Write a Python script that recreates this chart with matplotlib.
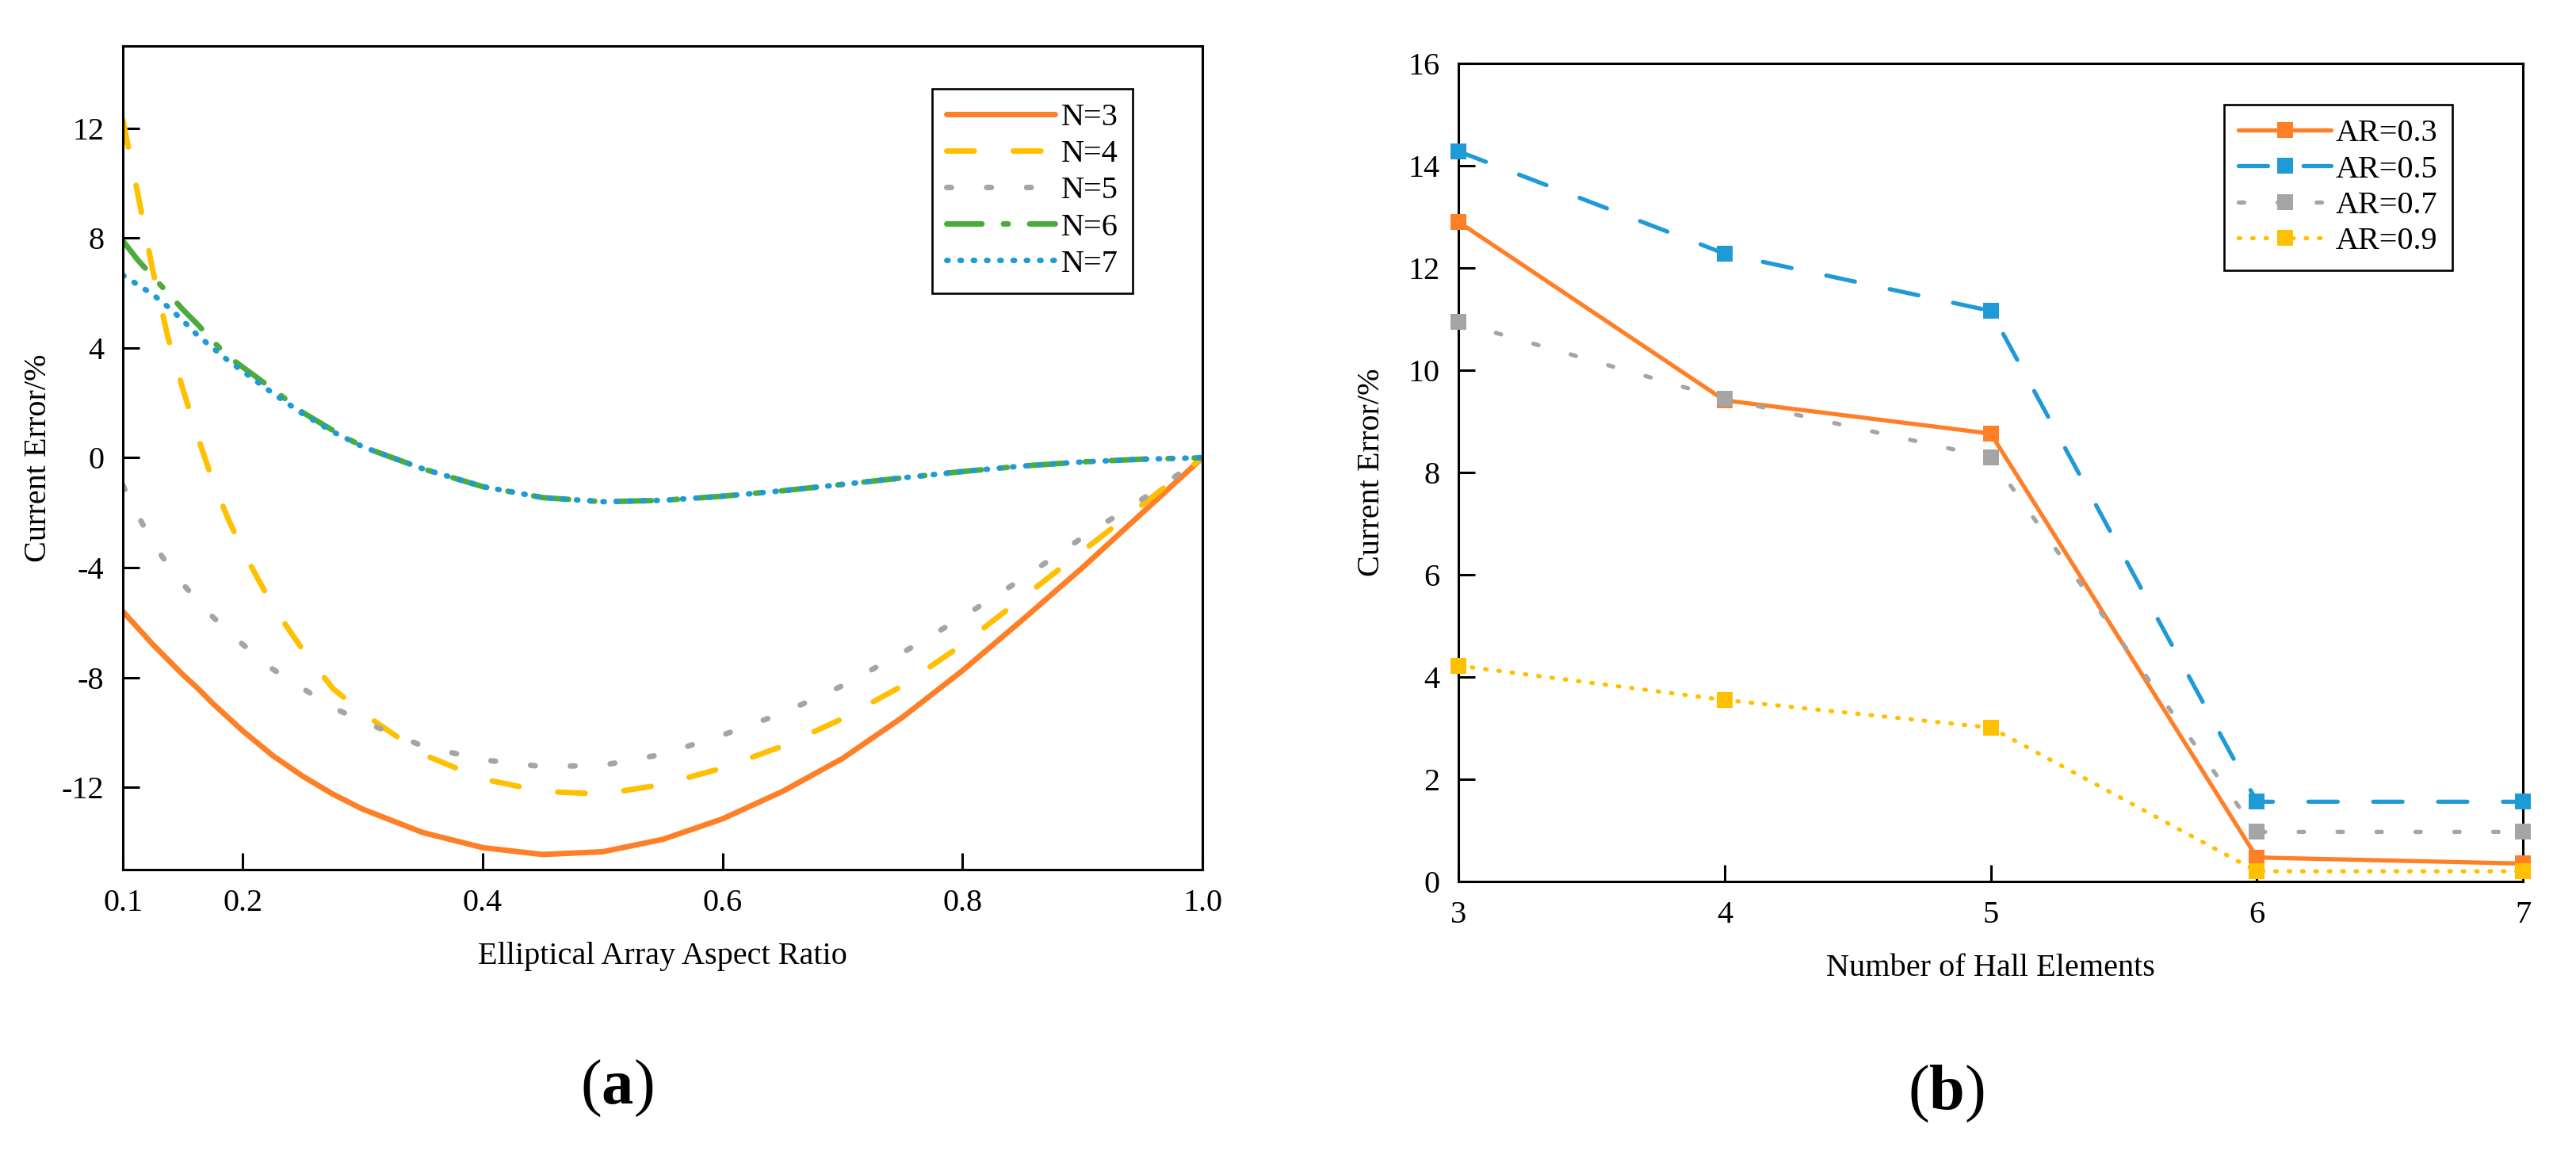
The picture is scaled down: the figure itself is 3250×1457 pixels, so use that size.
import numpy as np
import matplotlib
matplotlib.use('Agg')
from matplotlib import pyplot as plt
from matplotlib.ticker import FormatStrFormatter

plt.rcParams['font.family'] = ['Liberation Serif', 'DejaVu Serif']
plt.rcParams['mathtext.fontset'] = 'custom'
plt.rcParams['mathtext.rm'] = 'Liberation Serif'
plt.rcParams['mathtext.bf'] = 'Liberation Serif:bold'
plt.rcParams['axes.unicode_minus'] = False

# (a) current error vs elliptical aspect ratio
ratio = [0.1, 0.1125, 0.125, 0.1375, 0.15, 0.1625, 0.175, 0.1875, 0.2, 0.225, 0.25, 0.275,
         0.3, 0.35, 0.4, 0.45, 0.5, 0.55, 0.6, 0.65, 0.7, 0.75, 0.8, 0.85, 0.9, 0.95, 1.0]
err_n3 = [-5.6, -6.2, -6.8, -7.35, -7.9, -8.4, -8.95, -9.45, -9.95, -10.85, -11.6, -12.25,
          -12.8, -13.65, -14.2, -14.45, -14.35, -13.9, -13.15, -12.15, -10.95, -9.45, -7.75, -5.9, -4.0, -2.0, 0.0]
err_n4 = [12.3, 9.6, 6.8, 4.4, 2.5, 0.75, -0.85, -2.2, -3.4, -5.4, -7.0, -8.4,
          -9.3, -10.8, -11.7, -12.15, -12.25, -11.9, -11.3, -10.5, -9.5, -8.3, -6.8, -5.1, -3.4, -1.7, 0.0]
err_n5 = [-1.0, -2.1, -3.1, -3.9, -4.6, -5.2, -5.8, -6.3, -6.8, -7.7, -8.4, -9.1,
          -9.6, -10.5, -11.0, -11.25, -11.2, -10.8, -10.1, -9.3, -8.3, -7.1, -5.8, -4.4, -2.9, -1.5, 0.0]
err_n6 = [7.9, 7.2, 6.6, 6.0, 5.4, 4.85, 4.25, 3.7, 3.3, 2.5, 1.65, 1.0,
          0.4, -0.4, -1.05, -1.45, -1.6, -1.55, -1.4, -1.2, -0.97, -0.73, -0.5, -0.3, -0.15, -0.05, 0.0]
err_n7 = [6.65, 6.3, 5.95, 5.5, 5.0, 4.45, 4.0, 3.55, 3.15, 2.35, 1.6, 0.95,
          0.4, -0.4, -1.05, -1.45, -1.6, -1.55, -1.4, -1.2, -0.97, -0.73, -0.5, -0.3, -0.15, -0.05, 0.0]

# (b) current error vs number of Hall elements
hall_n = [3, 4, 5, 6, 7]
err_ar03 = [12.9, 9.41, 8.76, 0.47, 0.35]
err_ar05 = [14.28, 12.28, 11.16, 1.56, 1.56]
err_ar07 = [10.94, 9.44, 8.29, 0.97, 0.97]
err_ar09 = [4.22, 3.55, 3.01, 0.2, 0.2]

orange = '#FF7F27'
yellow = '#FFC000'
gray = '#A5A5A5'
green = '#4BAC3C'
blue = '#1E9BD7'

fs = 29

fig = plt.figure(figsize=(32.5, 14.57), dpi=100)
ax1 = fig.add_axes([0.0477, 0.2471, 0.4191, 0.7131])
ax2 = fig.add_axes([0.5662, 0.2368, 0.4132, 0.7083])

lw1 = 5
ax1.plot(ratio, err_n3, color=orange, lw=lw1, solid_capstyle='round', solid_joinstyle='round', label='N=3')
ax1.plot(ratio, err_n4, color=yellow, lw=lw1, dashes=(5, 7.1), dash_capstyle='round', label='N=4')
ax1.plot(ratio, err_n5, color=gray, lw=lw1, dashes=(0.85, 6.4), dash_capstyle='round', label='N=5')
ax1.plot(ratio, err_n6, color=green, lw=lw1, dashes=(6.4, 3.9, 0.85, 3.9), dash_capstyle='round', label='N=6')
ax1.plot(ratio, err_n7, color=blue, lw=lw1, dashes=(0.25, 2.16), dash_capstyle='round', label='N=7')

ax1.set_xlim(0.1, 1.0)
ax1.set_ylim(-15, 15)
ax1.set_xticks([0.1, 0.2, 0.4, 0.6, 0.8, 1.0])
ax1.set_yticks([-12, -8, -4, 0, 4, 8, 12])
ax1.xaxis.set_major_formatter(FormatStrFormatter('%.1f'))
ax1.set_xlabel('Elliptical Array Aspect Ratio', fontsize=fs, labelpad=22)
ax1.set_ylabel('Current Error/%', fontsize=fs, labelpad=8)
ax1.legend(loc='upper left', bbox_to_anchor=(0.7496, 0.948), borderaxespad=0, fontsize=fs,
           handlelength=3.4, handletextpad=0.2, labelspacing=0.22, borderpad=0.45,
           fancybox=False, framealpha=1, edgecolor='black').get_frame().set_linewidth(1.9)

lw2 = 3.8
ms = 13.7
ax2.plot(hall_n, err_ar03, color=orange, lw=lw2, marker='s', ms=ms, mew=0, clip_on=False,
         solid_capstyle='round', label='AR=0.3', zorder=5)
ax2.plot(hall_n, err_ar05, color=blue, lw=lw2, marker='s', ms=ms, mew=0, clip_on=False,
         dashes=(7, 8.5), dash_capstyle='round', label='AR=0.5', zorder=5)
ax2.plot(hall_n, err_ar07, color=gray, lw=lw2, marker='s', ms=ms, mew=0, clip_on=False,
         dashes=(1.3, 8.0), dash_capstyle='round', label='AR=0.7', zorder=5)
ax2.plot(hall_n, err_ar09, color=yellow, lw=lw2, marker='s', ms=ms, mew=0, clip_on=False,
         dashes=(0.35, 2.85), dash_capstyle='round', label='AR=0.9', zorder=5)

ax2.set_xlim(3, 7)
ax2.set_ylim(0, 16)
ax2.set_xticks(hall_n)
ax2.set_yticks(range(0, 17, 2))
ax2.set_xlabel('Number of Hall Elements', fontsize=fs, labelpad=22)
ax2.set_ylabel('Current Error/%', fontsize=fs, labelpad=20)
ax2.legend(loc='upper left', bbox_to_anchor=(0.7193, 0.9496), borderaxespad=0, fontsize=fs,
           handlelength=2.9, handletextpad=0.15, labelspacing=0.2, borderpad=0.45,
           fancybox=False, framealpha=1, edgecolor='black').get_frame().set_linewidth(1.9)

for ax in (ax1, ax2):
    for s in ax.spines.values():
        s.set_linewidth(2.2)
    ax.tick_params(direction='in', length=15, width=2.2, labelsize=fs, pad=17,
                   top=False, right=False)

fig.text(778 / 3250, 1 - 1373 / 1457, r'($\mathbf{a}$)', fontsize=58, ha='center', va='center')
fig.text(2455 / 3250, 1 - 1380 / 1457, r'($\mathbf{b}$)', fontsize=58, ha='center', va='center')

fig.savefig('out.png', dpi=100)
